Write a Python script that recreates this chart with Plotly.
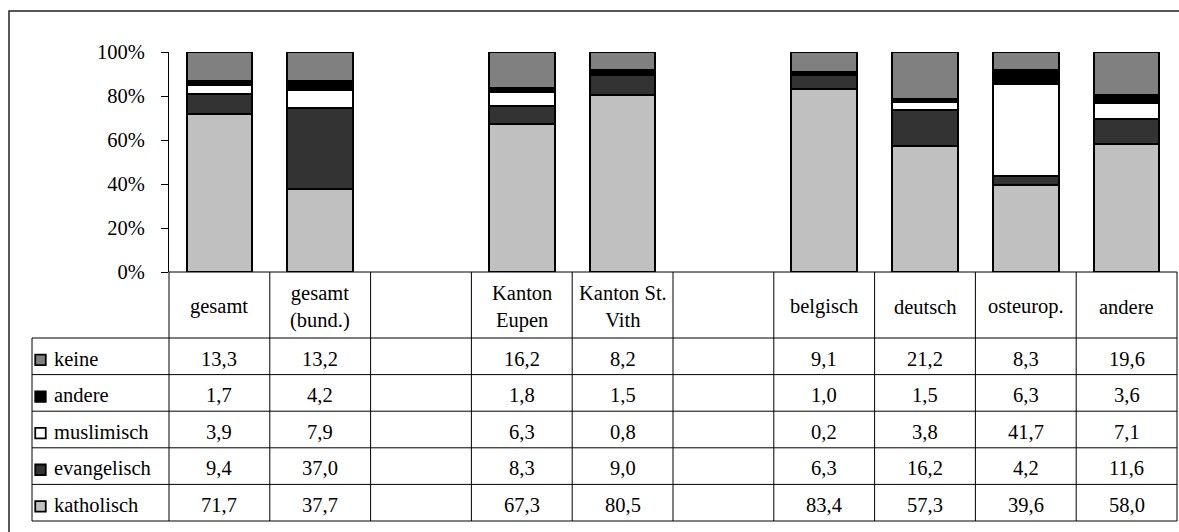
import plotly.graph_objects as go

# ---------------- data ----------------
categories = ["gesamt", "gesamt<br>(bund.)", "Kanton<br>Eupen", "Kanton St.<br>Vith",
              "belgisch", "deutsch", "osteurop.", "andere"]
group_sizes = [2, 2, 4]          # categories per group, an empty column between groups

katholisch = [71.7, 37.7, 67.3, 80.5, 83.4, 57.3, 39.6, 58.0]
evangelisch = [9.4, 37.0, 8.3, 9.0, 6.3, 16.2, 4.2, 11.6]
muslimisch = [3.9, 7.9, 6.3, 0.8, 0.2, 3.8, 41.7, 7.1]
andere = [1.7, 4.2, 1.8, 1.5, 1.0, 1.5, 6.3, 3.6]
keine = [13.3, 13.2, 16.2, 8.2, 9.1, 21.2, 8.3, 19.6]

# stacking order (bottom -> top)
series = [
    ("katholisch", katholisch, "#C0C0C0"),
    ("evangelisch", evangelisch, "#333333"),
    ("muslimisch", muslimisch, "#FFFFFF"),
    ("andere", andere, "#000000"),
    ("keine", keine, "#808080"),
]
y_ticks = [0, 20, 40, 60, 80, 100]

# ---------------- layout geometry ----------------
W, H = 1179, 532
FONT = "Liberation Serif"
FS = 20.5
PX_AXIS = 169      # pixel x of value axis
COL_W = 100.8      # pixel width of one column
Y100, Y0 = 52, 272 # pixel y of 100% and 0%
ROW_H = 36.6
HEAD_H = 66.0
LABEL_LEFT = 32

slots = []
s = 0
for g in group_sizes:
    for _ in range(g):
        slots.append(s)
        s += 1
    s += 1
n_cols = s - 1


def px2x(p):
    return (p - PX_AXIS) / COL_W - 0.5


def py2r(p):
    return (p - Y0) / ROW_H


hh = HEAD_H / ROW_H
n_rows = len(series)

fig = go.Figure()

for name, vals, col in series:
    fig.add_trace(go.Bar(
        x=slots, y=vals, name=name, width=0.65,
        marker=dict(color=col, line=dict(color="#000000", width=2)),
        xaxis="x", yaxis="y", showlegend=False, hoverinfo="skip",
    ))

# table rows: top to bottom is reverse of stacking order
table_series = list(reversed(series))

shapes = []
annotations = []
lc = "#000000"
x_left = px2x(LABEL_LEFT)
x_right = n_cols - 0.5
y_bottom = hh + n_rows

# vertical lines of columns
for k in range(n_cols + 1):
    shapes.append(dict(type="line", xref="x2", yref="y2", x0=k - 0.5, x1=k - 0.5,
                       y0=0, y1=y_bottom, line=dict(color=lc, width=1)))
# label column left line
shapes.append(dict(type="line", xref="x2", yref="y2", x0=x_left, x1=x_left,
                   y0=hh, y1=y_bottom, line=dict(color=lc, width=1)))
# top line (baseline)
shapes.append(dict(type="line", xref="x2", yref="y2", x0=-0.5, x1=x_right,
                   y0=0, y1=0, line=dict(color=lc, width=1)))
# row lines
for i in range(n_rows + 1):
    shapes.append(dict(type="line", xref="x2", yref="y2", x0=x_left, x1=x_right,
                       y0=hh + i, y1=hh + i, line=dict(color=lc, width=1)))

# header texts
for cat, sl in zip(categories, slots):
    annotations.append(dict(xref="x2", yref="y2", x=sl, y=hh / 2 + 0.05, text=cat,
                            showarrow=False, xanchor="center", yanchor="middle",
                            font=dict(family=FONT, size=FS, color="#000")))

# values and row labels
for i, (name, vals, col) in enumerate(table_series):
    yc = hh + i + 0.5 + 0.06
    annotations.append(dict(xref="x2", yref="y2", x=px2x(52), y=yc, text=name,
                            showarrow=False, xanchor="left", yanchor="middle",
                            font=dict(family=FONT, size=FS, color="#000")))
    for v, sl in zip(vals, slots):
        annotations.append(dict(xref="x2", yref="y2", x=sl, y=yc,
                                text=f"{v:.1f}".replace(".", ","),
                                showarrow=False, xanchor="center", yanchor="middle",
                                font=dict(family=FONT, size=FS, color="#000")))
    fig.add_trace(go.Scatter(
        x=[px2x(40.5)], y=[hh + i + 0.5 + 0.1], mode="markers",
        marker=dict(symbol="square", size=10.5, color=col,
                    line=dict(color="#000", width=1.8)),
        xaxis="x2", yaxis="y2", showlegend=False, hoverinfo="skip",
    ))

# outer frame
shapes.append(dict(type="rect", xref="paper", yref="paper",
                   x0=9 / W, x1=1.02, y0=-0.05, y1=(H - 11) / H,
                   line=dict(color="#222", width=1.5), layer="below"))

fig.update_layout(
    width=W, height=H, autosize=False,
    margin=dict(l=0, r=0, t=0, b=0, autoexpand=False),
    paper_bgcolor="white", plot_bgcolor="rgba(0,0,0,0)",
    barmode="stack", bargap=0,
    shapes=shapes, annotations=annotations,
    xaxis=dict(domain=[PX_AXIS / W, (PX_AXIS + n_cols * COL_W) / W],
               range=[-0.5, n_cols - 0.5], showticklabels=False, showgrid=False,
               zeroline=False, showline=False, ticks="", anchor="y"),
    yaxis=dict(domain=[(H - Y0) / H, (H - Y100) / H], range=[0, 100],
               tickvals=y_ticks, ticktext=[f"{v}%" for v in y_ticks],
               ticks="outside", ticklen=7, tickwidth=1, tickcolor="#000",
               showline=True, linecolor="#000", linewidth=1,
               showgrid=False, zeroline=False, ticklabelstandoff=12,
               tickfont=dict(family=FONT, size=FS, color="#000"), anchor="x"),
    xaxis2=dict(domain=[20 / W, 1], range=[px2x(20), px2x(W)], visible=False,
                anchor="y2", fixedrange=True),
    yaxis2=dict(domain=[(H - 528) / H, (H - 268) / H], range=[py2r(528), py2r(268)],
                visible=False, anchor="x2", fixedrange=True),
)

fig.write_html(
    "out.html",
    config={"responsive": False, "displayModeBar": False},
    post_script="document.body.style.margin='0';document.body.style.overflow='hidden';",
)
